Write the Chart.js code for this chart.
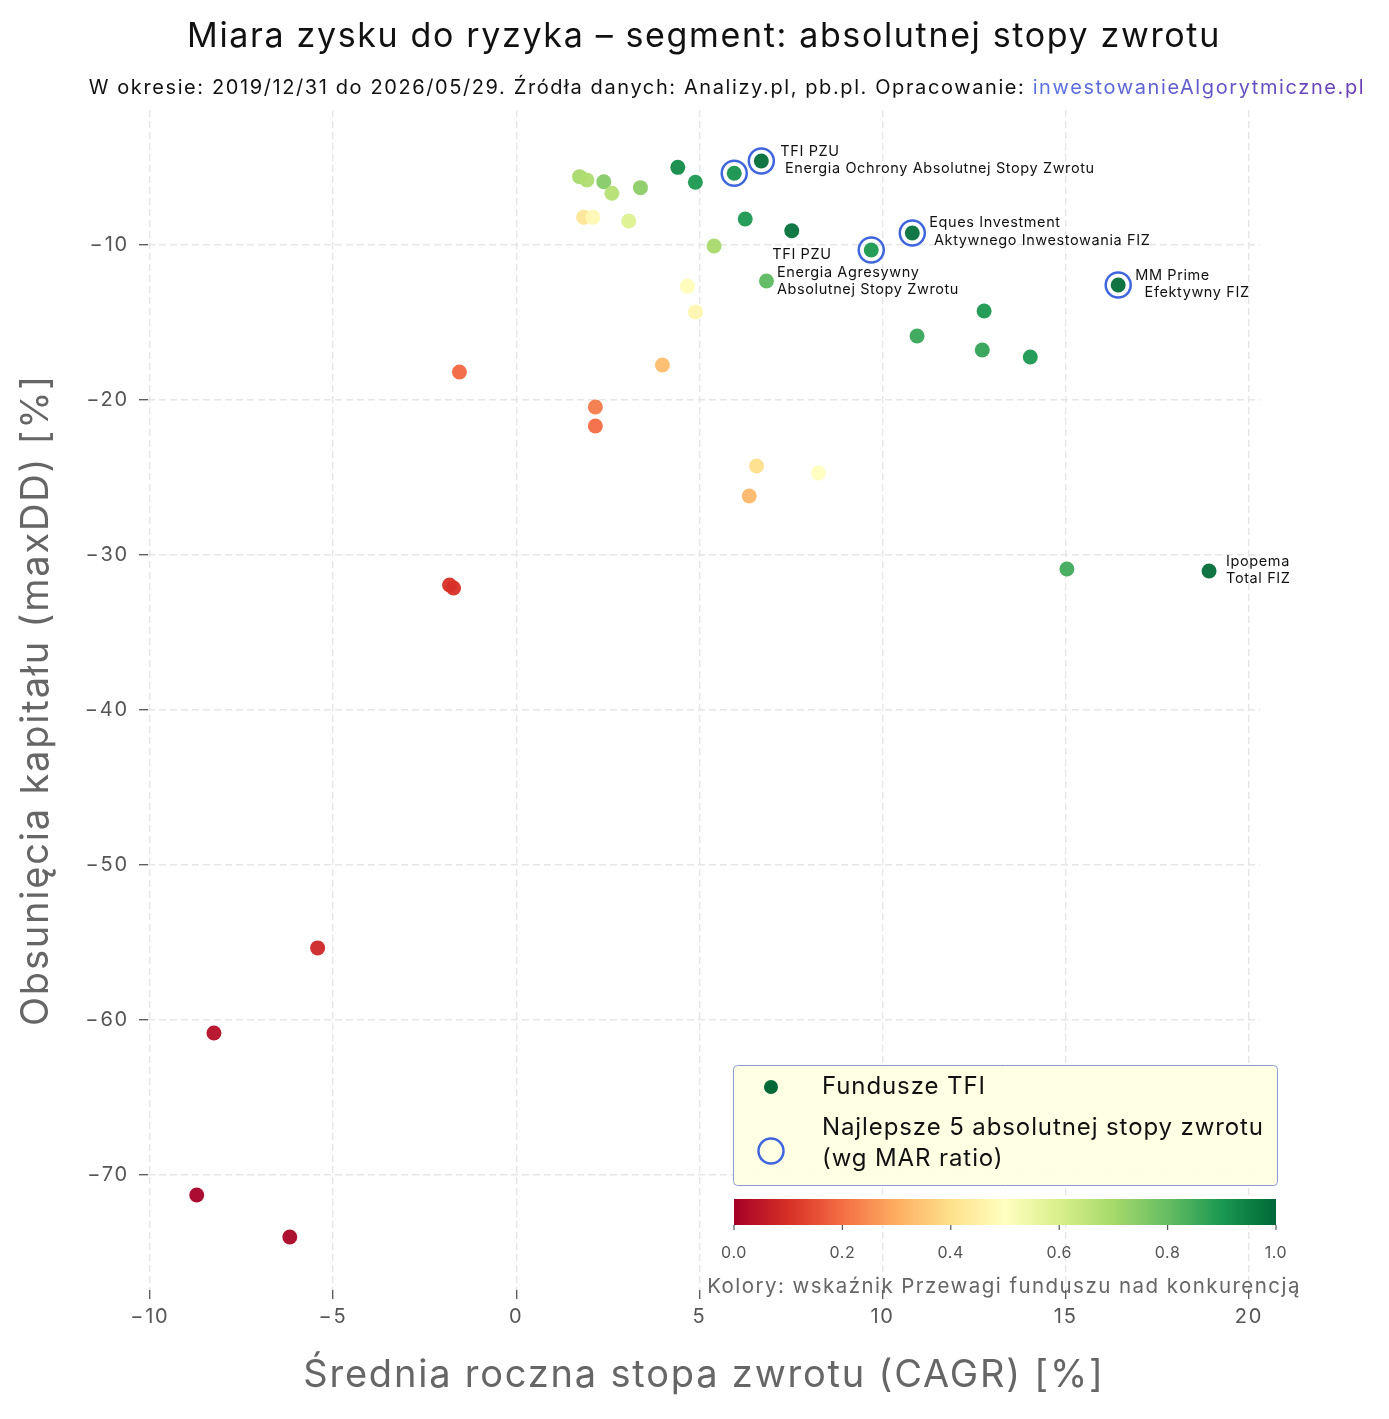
<!DOCTYPE html>
<html lang="pl">
<head>
<meta charset="utf-8">
<title>Miara zysku do ryzyka</title>
<script src="https://cdn.jsdelivr.net/npm/chart.js@4.4.1/dist/chart.umd.min.js"></script>
<style>
  html, body { margin: 0; padding: 0; background: #fff; }
  #wrap { width: 1389px; height: 1419px; }
</style>
</head>
<body>
<div id="wrap"><canvas id="wykres" width="1389" height="1419"></canvas></div>
<script>
// -- dane --
const cagr = [
  1.73, 1.93, 2.39, 2.61, 3.39, 4.41, 4.89, 5.95, 6.69, 1.84,
  2.09, 3.07, 6.25, 7.52, 5.40, 9.69, 10.81, 6.83, 4.67, 4.89,
  16.43, 12.77, 10.94, 12.72, 14.03, 3.99, -1.55, 2.16, 2.16, 6.56,
  8.25, 6.36, 15.03, 18.91, -1.82, -1.71, -5.42, -8.25, -8.72, -6.18
];
const maxDD = [
  -5.59, -5.81, -5.92, -6.66, -6.30, -4.99, -5.95, -5.37, -4.58, -8.21,
  -8.21, -8.45, -8.32, -9.08, -10.06, -10.32, -9.23, -12.32, -12.65, -14.32,
  -12.58, -14.26, -15.87, -16.77, -17.23, -17.74, -18.19, -20.45, -21.68, -24.26,
  -24.71, -26.19, -30.90, -31.03, -31.94, -32.13, -55.35, -60.84, -71.29, -74.00
];
// wskaznik Przewagi funduszu nad konkurencja (0..1) -> kolor
const przewaga = [
  0.70, 0.68, 0.75, 0.67, 0.74, 0.93, 0.90, 0.91, 0.99, 0.42,
  0.48, 0.59, 0.90, 0.98, 0.70, 0.90, 0.98, 0.81, 0.49, 0.47,
  0.99, 0.90, 0.86, 0.87, 0.90, 0.33, 0.19, 0.22, 0.20, 0.40,
  0.50, 0.32, 0.85, 0.99, 0.10, 0.10, 0.08, 0.03, 0.00, 0.01
];
// najlepsze 5 wg MAR ratio (indeksy funduszy)
const najlepsze5 = [7, 8, 15, 16, 20];

const etykietyIdx = [8, 16, 15, 20, 33];
const etykietyTekst = [
  ['TFI PZU', ' Energia Ochrony Absolutnej Stopy Zwrotu'],
  ['Eques Investment', ' Aktywnego Inwestowania FIZ'],
  ['TFI PZU', ' Energia Agresywny', ' Absolutnej Stopy Zwrotu'],
  ['MM Prime', '  Efektywny FIZ'],
  ['Ipopema', 'Total FIZ']
];

const colorbarTicks = [0, 0.2, 0.4, 0.6, 0.8, 1.0];

// -- paleta RdYlGn --
const rdylgn = ['#a50026', '#d73027', '#f46d43', '#fdae61', '#fee08b', '#ffffbf',
                '#d9ef8b', '#a6d96a', '#66bd63', '#1a9850', '#006837'];

function hexRgb(h) {
  return [parseInt(h.slice(1, 3), 16), parseInt(h.slice(3, 5), 16), parseInt(h.slice(5, 7), 16)];
}

function kolor(v, alfa = 1) {
  v = Math.min(1, Math.max(0, v));
  const p = v * (rdylgn.length - 1);
  const i = Math.min(rdylgn.length - 2, Math.floor(p));
  const t = p - i;
  const a = hexRgb(rdylgn[i]), b = hexRgb(rdylgn[i + 1]);
  const c = a.map((x, k) => Math.round(x + (b[k] - x) * t));
  return `rgba(${c[0]},${c[1]},${c[2]},${alfa})`;
}

const FONT = 'Inter, "Noto Sans", "DejaVu Sans", sans-serif';

// offsety etykiet (px) wzgledem punktu
const przesuniecia = [[19, -9, 17], [17, -10, 18], [-99, 5, 17.5], [17, -9, 17], [17, -9, 17]];

const dekoracje = {
  id: 'dekoracje',
  beforeDraw(chart) {
    chart.ctx.letterSpacing = '1.8px';
  },
  afterDraw(chart) {
    const ctx = chart.ctx;
    const sx = chart.scales.x, sy = chart.scales.y;
    ctx.save();

    // tytul i podtytul
    ctx.fillStyle = '#111';
    ctx.textAlign = 'center';
    ctx.textBaseline = 'middle';
    ctx.font = `34px ${FONT}`;
    ctx.letterSpacing = '1.65px';
    ctx.fillText('Miara zysku do ryzyka – segment: absolutnej stopy zwrotu', 704, 37);

    ctx.font = `20px ${FONT}`;
    ctx.letterSpacing = '1.6px';
    const cz1 = 'W okresie: 2019/12/31 do 2026/05/29. Źródła danych: Analizy.pl, pb.pl. Opracowanie: ';
    const cz2 = 'inwestowanieAlgorytmiczne.pl';
    const w1 = ctx.measureText(cz1).width, w2 = ctx.measureText(cz2).width;
    let x0 = 727 - (w1 + w2) / 2;
    ctx.textAlign = 'left';
    ctx.fillStyle = '#111';
    ctx.fillText(cz1, x0, 88);
    const grad = ctx.createLinearGradient(x0 + w1, 0, x0 + w1 + w2, 0);
    grad.addColorStop(0, '#5a74e2');
    grad.addColorStop(1, '#6a3fb2');
    ctx.fillStyle = grad;
    ctx.fillText(cz2, x0 + w1, 88);

    // etykiety funduszy
    ctx.fillStyle = '#111';
    ctx.font = `14.5px ${FONT}`;
    ctx.letterSpacing = '0.6px';
    ctx.textBaseline = 'middle';
    etykietyIdx.forEach((idx, k) => {
      const px = sx.getPixelForValue(cagr[idx]);
      const py = sy.getPixelForValue(maxDD[idx]);
      const [dx, dy, lh] = przesuniecia[k];
      etykietyTekst[k].forEach((linia, j) => {
        ctx.fillText(linia, px + dx, py + dy + j * lh);
      });
    });

    // legenda
    const lx = 733, ly = 1065, lw = 544, lh = 120;
    ctx.beginPath();
    ctx.roundRect(lx + 0.5, ly + 0.5, lw, lh, 4);
    ctx.fillStyle = 'rgba(255,255,225,0.95)';
    ctx.fill();
    ctx.strokeStyle = '#8c9bd6';
    ctx.lineWidth = 1;
    ctx.stroke();

    ctx.beginPath();
    ctx.arc(771, 1087, 7, 0, Math.PI * 2);
    ctx.fillStyle = kolor(1);
    ctx.fill();
    ctx.beginPath();
    ctx.arc(771, 1151, 12.5, 0, Math.PI * 2);
    ctx.strokeStyle = '#3f66dd';
    ctx.lineWidth = 2.5;
    ctx.stroke();

    ctx.fillStyle = '#111';
    ctx.font = `24px ${FONT}`;
    ctx.letterSpacing = '0.9px';
    ctx.fillText('Fundusze TFI', 822, 1087);
    ctx.fillText('Najlepsze 5 absolutnej stopy zwrotu', 822, 1128);
    ctx.fillText('(wg MAR ratio)', 822, 1159);

    // pasek kolorow
    const cbx = 734, cby = 1199, cbw = 542, cbh = 26;
    const cg = ctx.createLinearGradient(cbx, 0, cbx + cbw, 0);
    rdylgn.forEach((c, i) => cg.addColorStop(i / (rdylgn.length - 1), c));
    ctx.fillStyle = cg;
    ctx.fillRect(cbx, cby, cbw, cbh);

    ctx.strokeStyle = '#555';
    ctx.lineWidth = 1.2;
    ctx.fillStyle = '#555';
    ctx.font = `16px ${FONT}`;
    ctx.letterSpacing = '0.6px';
    ctx.textAlign = 'center';
    colorbarTicks.forEach(t => {
      const tx = cbx + t * cbw;
      ctx.beginPath();
      ctx.moveTo(tx, cby + cbh);
      ctx.lineTo(tx, cby + cbh + 5);
      ctx.stroke();
      ctx.fillText(t.toFixed(1), tx, 1253);
    });
    ctx.fillStyle = '#666';
    ctx.font = `20.5px ${FONT}`;
    ctx.letterSpacing = '1.45px';
    ctx.fillText('Kolory: wskaźnik Przewagi funduszu nad konkurencją', 1004, 1287);

    ctx.restore();
    ctx.letterSpacing = '0px';
  }
};

const minus = v => String(v).replace('-', '\u2212');

new Chart(document.getElementById('wykres'), {
  type: 'scatter',
  data: {
    datasets: [
      {
        label: 'Fundusze TFI',
        data: cagr.map((x, i) => ({ x, y: maxDD[i] })),
        backgroundColor: przewaga.map(v => kolor(v, 0.95)),
        borderWidth: 0,
        pointRadius: 7.5,
        order: 1
      },
      {
        label: 'Najlepsze 5 absolutnej stopy zwrotu (wg MAR ratio)',
        data: najlepsze5.map(i => ({ x: cagr[i], y: maxDD[i] })),
        backgroundColor: 'rgba(0,0,0,0)',
        borderColor: '#3f66dd',
        borderWidth: 2.5,
        pointRadius: 12.5,
        order: 0
      }
    ]
  },
  options: {
    responsive: false,
    animation: false,
    events: [],
    layout: { padding: { top: 110, right: 129, bottom: 0, left: 0 } },
    plugins: {
      legend: { display: false },
      tooltip: { enabled: false }
    },
    scales: {
      x: {
        type: 'linear',
        min: -10.05,
        max: 20.3,
        afterFit: s => { s.height = 129; },
        border: { display: false, dash: [7, 4] },
        grid: { color: '#e6e6e6', lineWidth: 1.4, tickColor: '#555', tickLength: 9, tickWidth: 1.3, tickBorderDash: [] },
        ticks: { stepSize: 5, includeBounds: false, color: '#555', padding: 6, font: { family: FONT, size: 20 }, callback: v => minus(v) },
        title: { display: true, text: 'Średnia roczna stopa zwrotu (CAGR) [%]', color: '#666', font: { family: FONT, size: 38 }, padding: { top: 0, bottom: 21 } }
      },
      y: {
        type: 'linear',
        min: -77.42,
        max: -1.29,
        afterFit: s => { s.width = 148; },
        border: { display: false, dash: [7, 4] },
        grid: { color: '#e6e6e6', lineWidth: 1.4, tickColor: '#555', tickLength: 9, tickWidth: 1.3, tickBorderDash: [] },
        ticks: { stepSize: 10, includeBounds: false, color: '#555', padding: 10, font: { family: FONT, size: 20 }, callback: v => minus(v) },
        title: { display: true, text: 'Obsunięcia kapitału (maxDD) [%]', color: '#666', font: { family: FONT, size: 38 }, padding: { top: 14, bottom: 0 } }
      }
    }
  },
  plugins: [dekoracje]
});
</script>
</body>
</html>
